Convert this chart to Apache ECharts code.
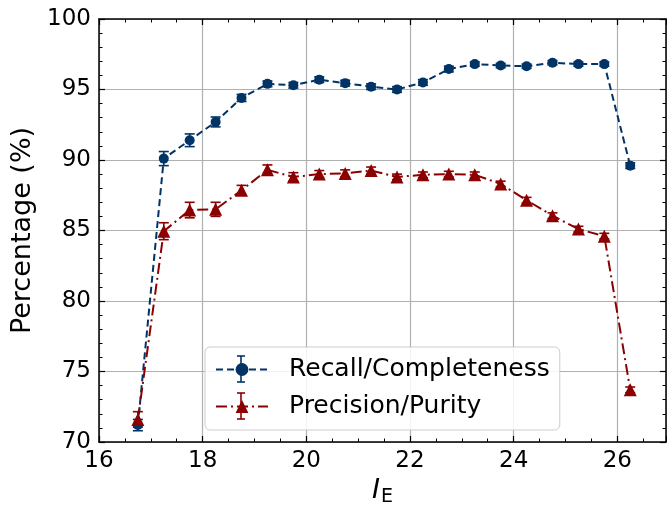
<!DOCTYPE html>
<html>
<head>
<meta charset="utf-8">
<script src="https://cdn.jsdelivr.net/npm/echarts@6/dist/echarts.min.js"></script>
<style>
  html, body { margin: 0; padding: 0; background: #fff; }
  #main { width: 667px; height: 505px; }
</style>
</head>
<body>
<div id="main"></div>
<script>
"use strict"

// 数据：横坐标 I_E
const xVals = [16.75, 17.25, 17.75, 18.25, 18.75, 19.25, 19.75, 20.25, 20.75, 21.25,
    21.75, 22.25, 22.75, 23.25, 23.75, 24.25, 24.75, 25.25, 25.75, 26.25];
// Recall/Completeness
const recallVals = [71.2, 90.1, 91.4, 92.7, 94.4, 95.4, 95.3, 95.7, 95.45, 95.2,
    95.0, 95.5, 96.45, 96.8, 96.7, 96.65, 96.9, 96.8, 96.8, 89.6];
const recallErr = [0.4, 0.5, 0.45, 0.35, 0.25, 0.2, 0.2, 0.2, 0.2, 0.2,
    0.2, 0.2, 0.2, 0.15, 0.15, 0.15, 0.15, 0.15, 0.15, 0.2];
// Precision/Purity
const precisionVals = [71.6, 84.95, 86.45, 86.5, 87.85, 89.3, 88.8, 89.0, 89.05, 89.25,
    88.8, 88.95, 89.0, 88.95, 88.3, 87.15, 86.05, 85.1, 84.6, 73.7];
const precisionErr = [0.55, 0.6, 0.55, 0.5, 0.35, 0.35, 0.3, 0.25, 0.25, 0.25,
    0.2, 0.2, 0.2, 0.2, 0.2, 0.2, 0.2, 0.2, 0.2, 0.2];
// 坐标轴范围
const xRange = [16, 26.94];
const yRange = [70, 100];

const FONT = "DejaVu Sans";
const BLUE = "#003366";
const RED = "#8b0000";

document.addEventListener("DOMContentLoaded", function () {
    const myChart = echarts.init(document.getElementById("main"));

    // 误差棒（custom series，通过坐标轴换算像素）
    function errorBars(vals, errs, color) {
        return {
            type: "custom",
            silent: true,
            z: 2,
            data: xVals.map((x, i) => [x, vals[i], errs[i]]),
            renderItem: function (params, api) {
                const x = api.value(0), y = api.value(1), e = api.value(2);
                const top = api.coord([x, y + e]);
                const bot = api.coord([x, y - e]);
                const cap = 5;
                const style = { stroke: color, lineWidth: 1.6 };
                return {
                    type: "group",
                    children: [
                        { type: "line", shape: { x1: top[0], y1: top[1], x2: bot[0], y2: bot[1] }, style: style },
                        { type: "line", shape: { x1: top[0] - cap, y1: top[1], x2: top[0] + cap, y2: top[1] }, style: style },
                        { type: "line", shape: { x1: bot[0] - cap, y1: bot[1], x2: bot[0] + cap, y2: bot[1] }, style: style }
                    ]
                };
            }
        };
    }

    // 图例里的误差棒小图标
    function legendBar(cx, cy, color) {
        const h = 13, cap = 4;
        const style = { stroke: color, lineWidth: 1.6 };
        return [
            { type: "line", z: 100, silent: true, shape: { x1: cx, y1: cy - h, x2: cx, y2: cy + h }, style: style },
            { type: "line", z: 100, silent: true, shape: { x1: cx - cap, y1: cy - h, x2: cx + cap, y2: cy - h }, style: style },
            { type: "line", z: 100, silent: true, shape: { x1: cx - cap, y1: cy + h, x2: cx + cap, y2: cy + h }, style: style }
        ];
    }

    const tickMajor = { show: true, inside: true, length: 6, lineStyle: { color: "#000", width: 1.2 } };
    const tickMinor = { show: true, inside: true, length: 3.5, lineStyle: { color: "#000", width: 1 } };

    function xAxisOf(position, interval, main) {
        return {
            type: "value",
            position: position,
            min: xRange[0],
            max: xRange[1],
            interval: interval,
            axisLine: { show: main, onZero: false, lineStyle: { color: "#000", width: 1.5 } },
            axisTick: interval === 2 ? tickMajor : tickMinor,
            axisLabel: {
                show: main && position === "bottom",
                fontSize: 23,
                fontFamily: FONT,
                color: "#000",
                margin: 8,
                formatter: v => (Math.abs(v - Math.round(v)) < 1e-6 && Math.round(v) % 2 === 0) ? String(Math.round(v)) : ""
            },
            splitLine: { show: main && position === "bottom", lineStyle: { color: "#b0b0b0", width: 1.2 } }
        };
    }

    function yAxisOf(position) {
        return {
            type: "value",
            position: position,
            min: yRange[0],
            max: yRange[1],
            interval: 5,
            axisLine: { show: true, onZero: false, lineStyle: { color: "#000", width: 1.5 } },
            axisTick: tickMajor,
            minorTick: Object.assign({ splitNumber: 5 }, tickMinor),
            axisLabel: {
                show: position === "left",
                fontSize: 23,
                fontFamily: FONT,
                color: "#000",
                margin: 8
            },
            splitLine: { show: position === "left", lineStyle: { color: "#b0b0b0", width: 1.2 } }
        };
    }

    const xMain = xAxisOf("bottom", 2, true);
    xMain.name = "{i|I}{s|E}";
    xMain.nameLocation = "middle";
    xMain.nameGap = 32;
    xMain.nameTextStyle = {
        rich: {
            i: { fontFamily: FONT, fontSize: 27, fontStyle: "italic", color: "#000" },
            s: { fontFamily: FONT, fontSize: 19, color: "#000", padding: [12, 0, 0, 1] }
        }
    };

    const yMain = yAxisOf("left");
    yMain.name = "Percentage (%)";
    yMain.nameLocation = "middle";
    yMain.nameGap = 62;
    yMain.nameTextStyle = { fontFamily: FONT, fontSize: 27, color: "#000" };

    const option = {
        backgroundColor: "#fff",
        animation: false,
        grid: { left: 99, right: 1, top: 19, bottom: 63, containLabel: false, outerBoundsMode: "none" },
        xAxis: [
            xMain,
            xAxisOf("bottom", 0.5, false),
            xAxisOf("top", 2, true),
            xAxisOf("top", 0.5, false)
        ],
        yAxis: [yMain, yAxisOf("right")],
        legend: {
            orient: "vertical",
            left: 205,
            top: 347,
            padding: [10, 10, 11, 10],
            itemGap: 12,
            itemWidth: 52,
            itemHeight: 16,
            backgroundColor: "rgba(255,255,255,0.85)",
            borderColor: "#cccccc",
            borderWidth: 1,
            borderRadius: 5,
            textStyle: { fontFamily: FONT, fontSize: 25, color: "#000", padding: [0, 0, 0, 16] },
            data: ["Recall/Completeness", "Precision/Purity"]
        },
        graphic: legendBar(241, 369, BLUE).concat(legendBar(241, 406, RED)),
        series: [
            errorBars(recallVals, recallErr, BLUE),
            {
                name: "Recall/Completeness",
                type: "line",
                z: 3,
                data: xVals.map((x, i) => [x, recallVals[i]]),
                symbol: "circle",
                symbolSize: 10,
                itemStyle: { color: BLUE },
                lineStyle: { color: BLUE, width: 2, type: [7, 4] }
            },
            errorBars(precisionVals, precisionErr, RED),
            {
                name: "Precision/Purity",
                type: "line",
                z: 4,
                data: xVals.map((x, i) => [x, precisionVals[i]]),
                symbol: "triangle",
                symbolSize: 13,
                itemStyle: { color: RED },
                lineStyle: { color: RED, width: 2, type: [11, 4, 2, 4] }
            }
        ]
    };

    myChart.setOption(option);
});
</script>
</body>
</html>
